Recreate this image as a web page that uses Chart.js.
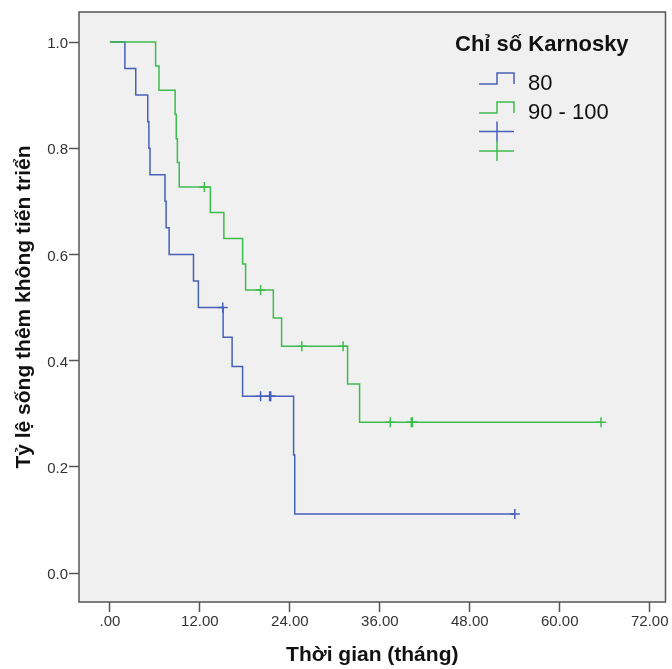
<!DOCTYPE html>
<html>
<head>
<meta charset="utf-8">
<script src="https://cdn.jsdelivr.net/npm/chart.js@4.4.1/dist/chart.umd.min.js"></script>
<style>
    html, body { margin: 0; padding: 0; background: #fff; }
    canvas { display: block; }
</style>
</head>
<body>
<canvas id="kmChart" width="672" height="669"></canvas>
<script>
// Nhóm Karnosky
const groupLabels = ["80", "90 - 100"];
const legendTitle = "Chỉ số Karnosky";

// Nhóm 80: thời điểm (tháng) và tỷ lệ sống
const blueTimes = [0, 2.0, 3.45, 5.05, 5.2, 5.35, 7.35, 7.5, 7.9, 11.15, 11.8, 15.1, 16.3, 17.7, 24.5, 24.65, 54.0];
const blueSurv = [1.0, 0.95, 0.90, 0.85, 0.80, 0.75, 0.70, 0.65, 0.60, 0.55, 0.50, 0.444, 0.389, 0.333, 0.222, 0.111, 0.111];
const blueCensorTimes = [15.05, 20.1, 21.3, 21.45, 54.0];
const blueCensorSurv = [0.50, 0.333, 0.333, 0.333, 0.111];

// Nhóm 90 - 100
const greenTimes = [0, 6.1, 6.55, 8.7, 8.85, 9.0, 9.25, 13.4, 15.2, 17.7, 18.1, 21.8, 22.9, 31.7, 33.3, 65.5];
const greenSurv = [1.0, 0.955, 0.909, 0.864, 0.818, 0.773, 0.727, 0.679, 0.630, 0.582, 0.533, 0.480, 0.427, 0.356, 0.284, 0.284];
const greenCensorTimes = [12.6, 20.1, 25.6, 31.1, 37.4, 40.2, 40.35, 65.5];
const greenCensorSurv = [0.727, 0.533, 0.427, 0.427, 0.284, 0.284, 0.284, 0.284];

// Trục
const xTicks = [0, 12, 24, 36, 48, 60, 72];
const yTicks = [0, 0.2, 0.4, 0.6, 0.8, 1.0];

const BLUE = "#4560b8";
const GREEN = "#3cbc4c";
const AXIS = "#555555";
const FONT = "'Liberation Sans', Arial, sans-serif";

function toPoints(xs, ys) {
    return xs.map(function (x, i) { return { x: x, y: ys[i] }; });
}

// nền xám, khung và chú thích
const framePlugin = {
    id: "frame",
    beforeDraw: function (chart) {
        const c = chart.ctx, a = chart.chartArea;
        c.save();
        c.fillStyle = "#ffffff";
        c.fillRect(0, 0, chart.width, chart.height);
        c.fillStyle = "#f0f0f0";
        c.fillRect(a.left, a.top, a.right - a.left, a.bottom - a.top);
        c.restore();
    },
    afterDraw: function (chart) {
        const c = chart.ctx, a = chart.chartArea;
        c.save();
        c.strokeStyle = AXIS;
        c.lineWidth = 1.5;
        c.strokeRect(a.left, a.top, a.right - a.left, a.bottom - a.top);

        // chú thích
        c.fillStyle = "#111";
        c.textBaseline = "alphabetic";
        c.font = "bold 22px " + FONT;
        c.fillText(legendTitle, 455, 51);
        c.font = "22px " + FONT;
        const colors = [BLUE, GREEN];
        for (let i = 0; i < 2; i++) {
            const lo = 84 + i * 29, hi = 73 + i * 29;
            c.strokeStyle = colors[i];
            c.lineWidth = 1.5;
            c.beginPath();
            c.moveTo(479, lo);
            c.lineTo(497, lo);
            c.lineTo(497, hi);
            c.lineTo(514, hi);
            c.lineTo(514, lo);
            c.stroke();
            c.fillText(groupLabels[i], 528, 90 + i * 29);
        }
        for (let i = 0; i < 2; i++) {
            const cy = 131.5 + i * 19.5;
            c.strokeStyle = colors[i];
            c.beginPath();
            c.moveTo(479, cy);
            c.lineTo(514, cy);
            c.moveTo(497, cy - 10);
            c.lineTo(497, cy + 10);
            c.stroke();
        }
        c.restore();
    }
};

const chart = new Chart(document.getElementById("kmChart"), {
    type: "scatter",
    data: {
        datasets: [
            {
                label: groupLabels[0],
                data: toPoints(blueTimes, blueSurv),
                showLine: true,
                stepped: true,
                borderColor: BLUE,
                borderWidth: 1.5,
                pointRadius: 0,
                order: 2
            },
            {
                label: groupLabels[1],
                data: toPoints(greenTimes, greenSurv),
                showLine: true,
                stepped: true,
                borderColor: GREEN,
                borderWidth: 1.5,
                pointRadius: 0,
                order: 1
            },
            {
                label: groupLabels[0] + "-censored",
                data: toPoints(blueCensorTimes, blueCensorSurv),
                pointStyle: "cross",
                pointRadius: 5,
                borderColor: BLUE,
                borderWidth: 1.5,
                order: 0
            },
            {
                label: groupLabels[1] + "-censored",
                data: toPoints(greenCensorTimes, greenCensorSurv),
                pointStyle: "cross",
                pointRadius: 5,
                borderColor: GREEN,
                borderWidth: 1.5,
                order: 0
            }
        ]
    },
    options: {
        responsive: false,
        animation: false,
        layout: { padding: { top: 12, right: 4, left: 0, bottom: 0 } },
        plugins: {
            legend: { display: false },
            tooltip: { enabled: false }
        },
        scales: {
            x: {
                type: "linear",
                min: -4.12,
                max: 74.1,
                afterBuildTicks: function (s) { s.ticks = xTicks.map(function (v) { return { value: v }; }); },
                afterFit: function (s) { s.height = 67; s.paddingLeft = 0; s.paddingRight = 0; },
                ticks: {
                    callback: function (v) { return v === 0 ? ".00" : v.toFixed(2); },
                    font: { family: FONT, size: 15 },
                    color: "#333",
                    padding: 1,
                    maxRotation: 0
                },
                grid: { drawOnChartArea: false, tickLength: 10, tickColor: AXIS, tickWidth: 1.5 },
                border: { display: false },
                title: {
                    display: true,
                    text: "Thời gian (tháng)",
                    font: { family: FONT, size: 21, weight: "bold" },
                    color: "#111",
                    padding: { top: 0, bottom: 1 }
                }
            },
            y: {
                type: "linear",
                min: -0.0546,
                max: 1.0565,
                afterBuildTicks: function (s) { s.ticks = yTicks.map(function (v) { return { value: v }; }); },
                afterFit: function (s) { s.width = 79; s.paddingTop = 0; s.paddingBottom = 0; },
                ticks: {
                    callback: function (v) { return v.toFixed(1); },
                    font: { family: FONT, size: 15 },
                    color: "#333",
                    padding: 1,
                    labelOffset: 2
                },
                grid: { drawOnChartArea: false, tickLength: 10, tickColor: AXIS, tickWidth: 1.5 },
                border: { display: false },
                title: {
                    display: true,
                    text: "Tỷ lệ sống thêm không tiến triển",
                    font: { family: FONT, size: 21, weight: "bold" },
                    color: "#111",
                    padding: { top: 12, bottom: 0 }
                }
            }
        }
    },
    plugins: [framePlugin]
});
</script>
</body>
</html>
